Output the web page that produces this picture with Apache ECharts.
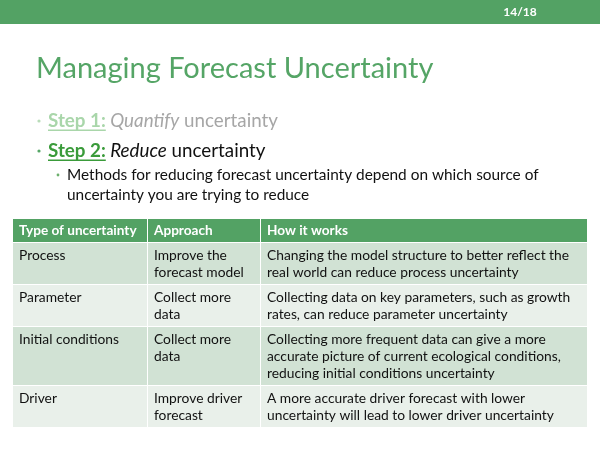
<!DOCTYPE html>
<html>
<head>
<meta charset="utf-8">
<script src="https://cdn.jsdelivr.net/npm/echarts@6/dist/echarts.min.js"></script>
<style>
  html, body { margin: 0; padding: 0; background: #fff; }
  #main { width: 600px; height: 450px; }
</style>
</head>
<body>
<div id="main"></div>
<script>
// slide text
const pageLabel = '14/18';
const slideTitle = 'Managing Forecast Uncertainty';
const step1 = ['Step 1:', 'Quantify', 'uncertainty'];
const step2 = ['Step 2:', 'Reduce', 'uncertainty'];
const subLines = [
  'Methods for reducing forecast uncertainty depend on which source of',
  'uncertainty you are trying to reduce'
];

// table
const headers = ['Type of uncertainty', 'Approach', 'How it works'];
const uncertaintyTypes = [['Process'], ['Parameter'], ['Initial conditions'], ['Driver']];
const approaches = [
  ['Improve the', 'forecast model'],
  ['Collect more', 'data'],
  ['Collect more', 'data'],
  ['Improve driver', 'forecast']
];
const howItWorks = [
  ['Changing the model structure to better reflect the', 'real world can reduce process uncertainty'],
  ['Collecting data on key parameters, such as growth', 'rates, can reduce parameter uncertainty'],
  ['Collecting more frequent data can give a more', 'accurate picture of current ecological conditions,', 'reducing initial conditions uncertainty'],
  ['A more accurate driver forecast with lower', 'uncertainty will lead to lower driver uncertainty']
];

const FONT = 'Lato';
const GREEN = '#53a264';
const ctx = document.createElement('canvas').getContext('2d');
const measure = (txt, font) => { ctx.font = font; return ctx.measureText(txt).width; };

let graphic = [];

// top bar + page number
graphic.push({type: 'rect', shape: {x: 0, y: 0, width: 600, height: 24}, style: {fill: GREEN}});
graphic.push({
  type: 'text', x: 520, y: 12,
  style: {text: pageLabel, font: `bold 12px ${FONT}`, fill: '#fff', textAlign: 'center', textVerticalAlign: 'middle'}
});

// title
graphic.push({
  type: 'text', x: 36, y: 69,
  style: {text: slideTitle, font: `29px ${FONT}`, fill: '#55a566', textVerticalAlign: 'middle'}
});

// a bullet line made of label / italic word / rest
const stepLine = (parts, y, colors) => {
  const size = 18.8;
  graphic.push({type: 'circle', shape: {cx: 39, cy: y, r: 1.6}, style: {fill: colors.bullet}});
  let x = 48;
  const pieces = [
    {text: parts[0], font: `bold ${size}px ${FONT}`, fill: colors.label},
    {text: ' ' + parts[1], font: `italic ${size}px ${FONT}`, fill: colors.text},
    {text: ' ' + parts[2], font: `${size}px ${FONT}`, fill: colors.text}
  ];
  pieces.forEach((p, i) => {
    graphic.push({
      type: 'text', x: x, y: y,
      style: {text: p.text, font: p.font, fill: p.fill, textVerticalAlign: 'middle'}
    });
    const w = measure(p.text, p.font);
    if (i === 0) {
      graphic.push({type: 'rect', shape: {x: x, y: y + 8.5, width: w, height: 1.5}, style: {fill: p.fill}});
    }
    x += w;
  });
};

stepLine(step1, 121, {bullet: '#b9dcb9', label: '#a9d6aa', text: '#a6a6a6'});
stepLine(step2, 151, {bullet: '#56a767', label: '#3a9b3a', text: '#111'});

// sub bullet
graphic.push({type: 'circle', shape: {cx: 58, cy: 175, r: 1.4}, style: {fill: '#6db06d'}});
subLines.forEach((line, i) => {
  graphic.push({
    type: 'text', x: 67, y: 175 + i * 20,
    style: {text: line, font: `15.4px ${FONT}`, fill: '#111', textVerticalAlign: 'middle'}
  });
});

// table layout
const colX = [13, 148, 261];
const colW = [134, 112, 326];
const lineH = 17;
let y = 219;

const cellText = (lines, cx, cy, font, fill) => {
  lines.forEach((t, k) => {
    graphic.push({
      type: 'text', x: cx + 6, y: cy + k * lineH,
      style: {text: t, font: font, fill: fill, textVerticalAlign: 'middle'}
    });
  });
};

// header row
headers.forEach((h, c) => {
  graphic.push({type: 'rect', shape: {x: colX[c], y: y, width: colW[c], height: 23}, style: {fill: GREEN}});
  cellText([h], colX[c], y + 12, `bold 13.6px ${FONT}`, '#fff');
});
y += 24;

uncertaintyTypes.forEach((type, r) => {
  const cells = [type, approaches[r], howItWorks[r]];
  const n = Math.max(...cells.map(c => c.length));
  const h = n * lineH + 7;
  const bg = r % 2 === 0 ? '#d1e2d4' : '#e9f0ea';
  cells.forEach((lines, c) => {
    graphic.push({type: 'rect', shape: {x: colX[c], y: y, width: colW[c], height: h}, style: {fill: bg}});
    cellText(lines, colX[c], y + 13, `13.8px ${FONT}`, '#111');
  });
  y += h + 1;
});

const chart = echarts.init(document.getElementById('main'));
chart.setOption({
  backgroundColor: '#fff',
  animation: false,
  graphic: graphic
});
</script>
</body>
</html>
